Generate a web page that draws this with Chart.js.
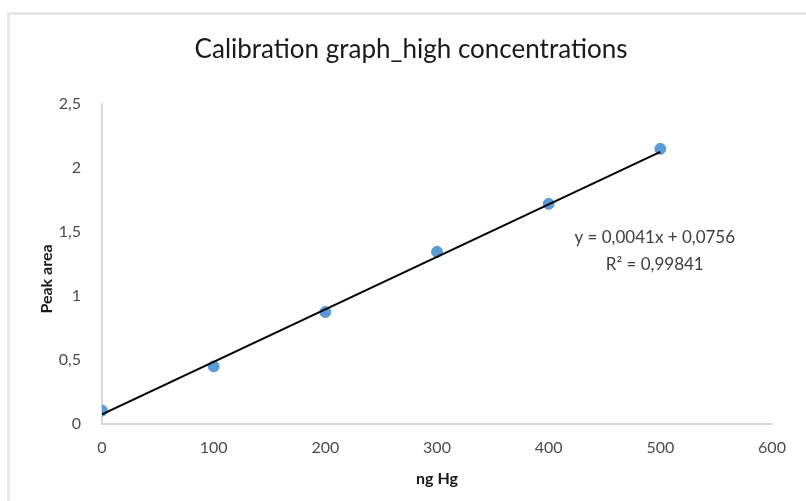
<!DOCTYPE html>
<html>
<head>
<meta charset="utf-8">
<script src="https://cdn.jsdelivr.net/npm/chart.js@4/dist/chart.umd.min.js"></script>
<style>
  html, body { margin: 0; padding: 0; background: #fff; overflow: hidden; }
  #wrap { position: relative; width: 806px; height: 501px; }
  #frame {
    position: absolute; left: 7px; top: 12px; width: 900px; height: 600px;
    border-left: 3px solid #e8e8e8; border-top: 3px solid #e8e8e8;
    pointer-events: none;
  }
  canvas { position: absolute; left: 0; top: 0; }
</style>
</head>
<body>
<div id="wrap">
  <canvas id="calib" width="806" height="501"></canvas>
  <div id="frame"></div>
</div>
<script>
  // standards (ng Hg) and measured peak areas
  const ngHg = [0, 100, 200, 300, 400, 500];
  const peakArea = [0.105, 0.45, 0.875, 1.345, 1.72, 2.15];

  // linear fit reported on the chart
  const slope = 0.0041;
  const intercept = 0.0756;
  const rSquared = 0.99841;

  const xTicks = [0, 100, 200, 300, 400, 500, 600];
  const yTicks = [0, 0.5, 1, 1.5, 2, 2.5];

  const chartTitle = 'Calibration graph_high concentrations';
  const yTitle = 'Peak area';

  const fontFamily = 'Lato, "Open Sans", sans-serif';
  const comma = v => String(v).replace('.', ',');

  const points = ngHg.map((x, i) => ({ x: x, y: peakArea[i] }));
  const fitX = [ngHg[0], ngHg[ngHg.length - 1]];
  const fitLine = fitX.map(x => ({ x: x, y: slope * x + intercept }));

  // chart title, y axis title and the fit equation
  const textLayer = {
    id: 'textLayer',
    afterDatasetsDraw(chart) {
      const { ctx, scales } = chart;
      ctx.save();
      ctx.textAlign = 'center';
      ctx.textBaseline = 'middle';

      ctx.fillStyle = '#1a1a1a';
      ctx.font = '26px ' + fontFamily;
      ctx.fillText(chartTitle, 411, 50);

      ctx.save();
      ctx.translate(47, 279);
      ctx.rotate(-Math.PI / 2);
      ctx.font = 'bold 16px ' + fontFamily;
      ctx.fillText(yTitle, 0, 0);
      ctx.restore();

      const cx = scales.x.getPixelForValue(495);
      const cy = scales.y.getPixelForValue(1.46);
      ctx.fillStyle = '#404040';
      ctx.font = '17px ' + fontFamily;
      ctx.fillText('y = ' + comma(slope) + 'x + ' + comma(intercept), cx, cy);
      ctx.fillText('R² = ' + comma(rSquared), cx, cy + 27);
      ctx.restore();
    }
  };

  const ctx = document.getElementById('calib');
  window.calibChart = new Chart(ctx, {
    type: 'scatter',
    data: {
      datasets: [
        {
          label: 'Linear fit',
          type: 'line',
          data: fitLine,
          borderColor: '#000000',
          borderWidth: 2,
          pointRadius: 0,
          fill: false,
          order: 0
        },
        {
          label: 'Peak area',
          data: points,
          backgroundColor: '#5b9bd5',
          borderColor: '#5b9bd5',
          pointRadius: 5.5,
          order: 1
        }
      ]
    },
    options: {
      responsive: false,
      animation: false,
      layout: { padding: { left: 0, right: 34, top: 104, bottom: 0 } },
      plugins: {
        legend: { display: false },
        tooltip: { enabled: false },
        title: { display: false }
      },
      scales: {
        x: {
          type: 'linear',
          min: 0,
          max: 600,
          afterBuildTicks: s => { s.ticks = xTicks.map(v => ({ value: v })); },
          afterFit: s => { s.height = 77; },
          grid: { display: false },
          border: { display: true, color: '#d9d9d9', width: 2 },
          ticks: {
            color: '#4d4d4d',
            padding: 6,
            font: { family: fontFamily, size: 16 },
            callback: v => comma(v)
          },
          title: {
            display: true,
            text: 'ng Hg',
            color: '#1a1a1a',
            font: { family: fontFamily, size: 16, weight: 'bold', lineHeight: 1.2 },
            padding: { top: 4, bottom: 13 }
          }
        },
        y: {
          type: 'linear',
          min: 0,
          max: 2.5,
          afterBuildTicks: s => { s.ticks = yTicks.map(v => ({ value: v })); },
          afterFit: s => { s.width = 102; },
          grid: { display: false },
          border: { display: true, color: '#d9d9d9', width: 2 },
          ticks: {
            color: '#4d4d4d',
            padding: 13,
            font: { family: fontFamily, size: 16 },
            callback: v => comma(v)
          }
        }
      }
    },
    plugins: [textLayer]
  });
</script>
</body>
</html>
